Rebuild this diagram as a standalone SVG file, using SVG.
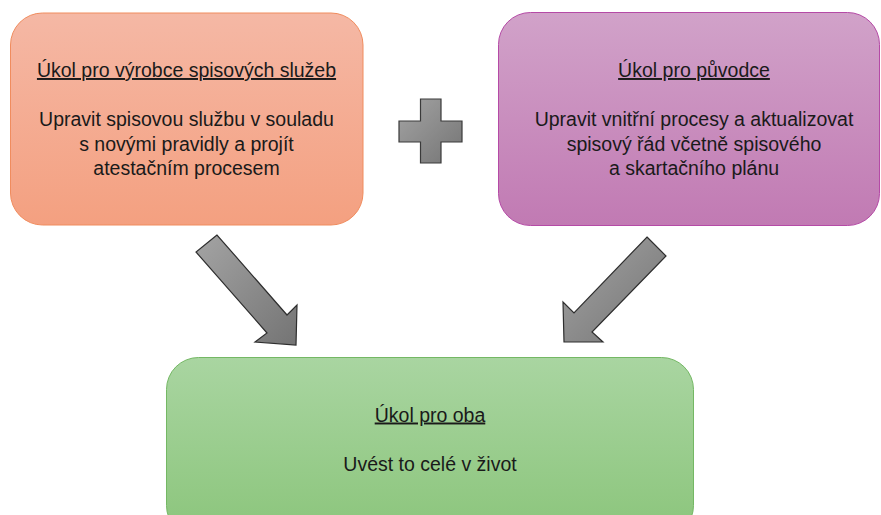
<svg xmlns="http://www.w3.org/2000/svg" width="881" height="515" viewBox="0 0 881 515">
<style>
text{font-family:"Liberation Sans",Arial,sans-serif;font-size:19.5px;fill:#1a1a1a;text-anchor:middle}
.t{text-decoration:underline}
.arrow{fill:url(#gGray);stroke:#2e2e2e;stroke-width:1.2;stroke-linejoin:miter}
</style>
<defs>
<linearGradient id="gOrange" x1="0" y1="0" x2="0" y2="1"><stop offset="0" stop-color="#f5b8a5"/><stop offset="1" stop-color="#f4a080"/></linearGradient>
<linearGradient id="gPurple" x1="0" y1="0" x2="0" y2="1"><stop offset="0" stop-color="#d1a2c9"/><stop offset="1" stop-color="#c17ab3"/></linearGradient>
<linearGradient id="gGreen" x1="0" y1="0" x2="0" y2="1"><stop offset="0" stop-color="#a9d5a1"/><stop offset="1" stop-color="#8bc57b"/></linearGradient>
<linearGradient id="gGray" x1="0" y1="0" x2="1" y2="1"><stop offset="0" stop-color="#a4a4a4"/><stop offset="1" stop-color="#747474"/></linearGradient>
</defs>
<g id="node-vyrobce">
<rect x="10.5" y="13" width="352.5" height="212" rx="32" ry="32" fill="url(#gOrange)" stroke="#f08c5e" stroke-width="1"/>
<text class="t" x="186.5" y="77">Úkol pro výrobce spisových služeb</text>
<text x="186.5" y="126">Upravit spisovou službu v souladu</text>
<text x="186.5" y="150.5">s novými pravidly a projít</text>
<text x="186.5" y="175">atestačním procesem</text>
</g>
<g id="node-plus">
<path d="M420.5,99 H441 V121 H462 V142 H441 V163 H420.5 V142 H399 V121 H420.5 Z" fill="url(#gGray)" stroke="#3a3a3a" stroke-width="1.2"/>
</g>
<g id="node-puvodce">
<rect x="498.5" y="12.5" width="381" height="213" rx="32" ry="32" fill="url(#gPurple)" stroke="#b54aa6" stroke-width="1"/>
<text class="t" x="694" y="77">Úkol pro původce</text>
<text x="694" y="126">Upravit vnitřní procesy a aktualizovat</text>
<text x="694" y="150.5">spisový řád včetně spisového</text>
<text x="694" y="175">a skartačního plánu</text>
</g>
<g id="node-oba">
<rect x="166.5" y="357.5" width="527" height="180" rx="32" ry="32" fill="url(#gGreen)" stroke="#74b864" stroke-width="1"/>
<text class="t" x="430" y="421.5">Úkol pro oba</text>
<text x="430" y="470.5">Uvést to celé v život</text>
</g>
<g id="connectors">
<polygon class="arrow" points="217,235 196,252 267,333 255,342 296,345 297,305 287,315"/>
<polygon class="arrow" points="647,237 666,256 592,332 603,342 564,342 563,302 574,313"/>
</g>
</svg>
